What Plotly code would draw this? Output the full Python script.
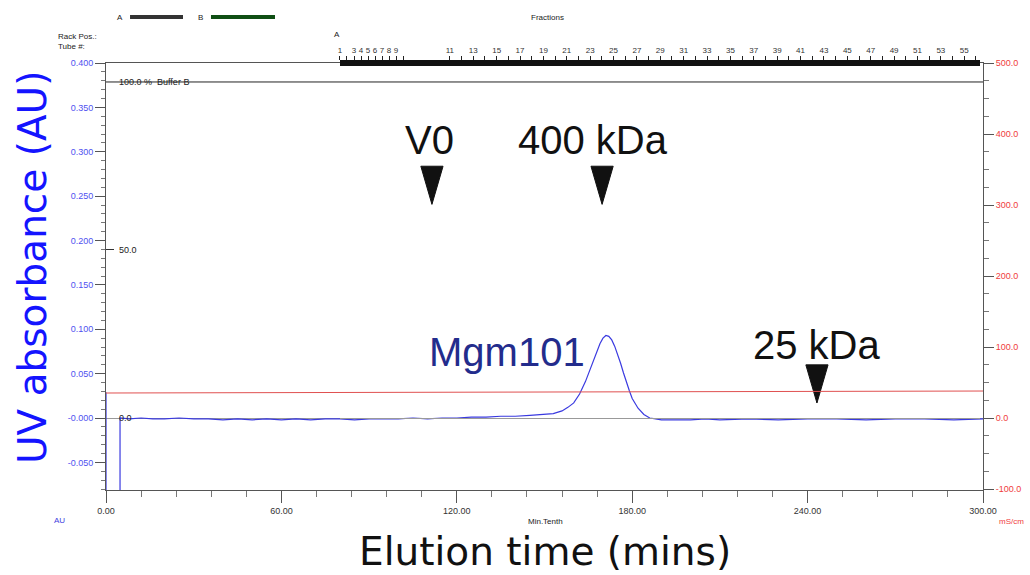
import plotly.graph_objects as go

# ---------------- data ----------------
uv_time = [0, 0, 4.8, 4.8, 8, 12, 16, 20, 25, 30, 35, 40, 45, 50, 55, 60, 65, 70, 75, 80,
           85, 90, 95, 100, 105, 110, 115, 120, 125, 130, 135, 140, 145, 150, 153, 156, 158,
           160, 162, 164, 166, 167, 168, 169, 170, 171, 172, 173, 174, 175, 176, 177, 178,
           179, 180, 182, 184, 186, 188, 190, 195, 200, 205, 210, 220, 230, 240, 250, 260,
           270, 280, 290, 300]
uv_au = [0.029, -0.12, -0.12, 0.000, -0.001, 0.000, -0.001, -0.001, 0.000, -0.001, -0.001,
         -0.002, -0.001, -0.002, -0.001, -0.002, -0.001, -0.002, -0.001, -0.001, -0.002,
         -0.001, -0.001, -0.001, 0.000, -0.001, 0.000, 0.000, 0.001, 0.001, 0.002, 0.002,
         0.003, 0.004, 0.005, 0.008, 0.012, 0.017, 0.027, 0.041, 0.058, 0.067, 0.076, 0.084,
         0.090, 0.093, 0.092, 0.088, 0.081, 0.072, 0.062, 0.051, 0.040, 0.031, 0.022, 0.011,
         0.004, 0.000, -0.001, -0.002, -0.002, -0.002, -0.001, -0.002, -0.001, -0.002,
         -0.001, -0.001, -0.002, -0.001, -0.001, -0.002, -0.001]

cond_time = [0, 10, 20, 25, 30, 35, 40, 50, 60, 80, 100, 130, 160, 200, 240, 270, 300]
cond_mscm = [35.2, 35.3, 35.5, 36.0, 35.6, 36.2, 36.0, 36.4, 36.6, 36.8, 37.0, 37.3, 37.5,
             37.7, 37.9, 38.0, 38.0]

conc_time = [0, 300]
conc_pct_b = [100, 100]

marker_labels = ["V0", "400 kDa", "25 kDa"]
marker_time = [111.5, 169.7, 243.2]
marker_tip_au = [0.2407, 0.2407, 0.0169]
label_time = [110.8, 166.6, 243.2]
label_au = [0.3132, 0.3132, 0.0823]

peak_label = "Mgm101"
peak_label_time = 137.2
peak_label_au = 0.0746

x_ticks = [0, 60, 120, 180, 240, 300]
x_tick_text = ["0.00", "60.00", "120.00", "180.00", "240.00", "300.00"]
y_ticks = [-0.05, 0.0, 0.05, 0.10, 0.15, 0.20, 0.25, 0.30, 0.35, 0.40]
y_tick_text = ["-0.050", "-0.000", "0.050", "0.100", "0.150", "0.200", "0.250", "0.300",
               "0.350", "0.400"]
y2_ticks = [-100, 0, 100, 200, 300, 400, 500]
y2_tick_text = ["-100.0", "0.0", "100.0", "200.0", "300.0", "400.0", "500.0"]
y3_ticks = [0, 50, 100]
y3_tick_text = ["0.0", "50.0", "100.0 %  Buffer B"]

frac_numbers = list(range(1, 57))
frac_start_min = [80.0, 82.4, 84.8, 87.2, 89.6, 92.0, 94.4, 96.8, 99.2, 101.6,
                  117.6, 121.6, 125.6, 129.6, 133.6, 137.6, 141.6, 145.6, 149.6, 153.6,
                  157.6, 161.6, 165.6, 169.6, 173.6, 177.6, 181.6, 185.6, 189.6, 193.6,
                  197.6, 201.6, 205.6, 209.6, 213.6, 217.6, 221.6, 225.6, 229.6, 233.6,
                  237.6, 241.6, 245.6, 249.6, 253.6, 257.6, 261.6, 265.6, 269.6, 273.6,
                  277.6, 281.6, 285.6, 289.6, 293.6, 297.6]
frac_shown = [1, 3, 4, 5, 6, 7, 8, 9] + list(range(11, 56, 2))

# ---------------- figure ----------------
FONT = "Liberation Sans, Arial, sans-serif"
TITLE_FONT = "DejaVu Sans, sans-serif"
TRI_HALF_W = 3.8     # minutes
TRI_H = 0.043        # AU

fig = go.Figure()

fig.add_trace(go.Scatter(x=conc_time, y=conc_pct_b, yaxis="y3", mode="lines",
                         line=dict(color="#222222", width=1), hoverinfo="skip"))
fig.add_trace(go.Scatter(x=cond_time, y=cond_mscm, yaxis="y2", mode="lines",
                         line=dict(color="#e05050", width=1), hoverinfo="skip"))
fig.add_trace(go.Scatter(x=uv_time, y=uv_au, mode="lines",
                         line=dict(color="#3a3ae0", width=1.2), hoverinfo="skip"))

# triangles marking calibration positions
tx, ty = [], []
for t, tip in zip(marker_time, marker_tip_au):
    tx += [t - TRI_HALF_W, t + TRI_HALF_W, t, t - TRI_HALF_W, None]
    ty += [tip + TRI_H, tip + TRI_H, tip, tip + TRI_H, None]
fig.add_trace(go.Scatter(x=tx, y=ty, mode="lines", fill="toself", fillcolor="#111111",
                         line=dict(color="#111111", width=1), hoverinfo="skip"))

# invisible trace to create the fractions axis
fig.add_trace(go.Scatter(x=frac_start_min, y=[None] * len(frac_start_min), xaxis="x2",
                         mode="markers", hoverinfo="skip"))

frac_text = [str(n) if n in frac_shown else "" for n in frac_numbers]

fig.update_layout(
    width=1030, height=575,
    margin=dict(l=106, r=47, t=63, b=85),
    paper_bgcolor="white", plot_bgcolor="rgba(0,0,0,0)",
    showlegend=False,
    xaxis=dict(range=[0, 300], tickvals=x_ticks, ticktext=x_tick_text, automargin=False,
               ticks="outside", ticklen=12, tickcolor="#555", showline=True,
               linecolor="#555", linewidth=1, mirror=True, showgrid=False, zeroline=False,
               tickfont=dict(family=FONT, size=9, color="#333"),
               minor=dict(dtick=12, ticks="outside", ticklen=6, tickcolor="#777")),
    xaxis2=dict(anchor="free", position=1, side="top", domain=[0.2668, 0.9966],
                range=[80.0, 299.0], tickvals=frac_start_min, ticktext=frac_text,
                automargin=False,
                tickangle=0, ticks="outside", ticklen=4, tickcolor="#222", showline=True,
                linecolor="#111", linewidth=6, showgrid=False, zeroline=False,
                tickfont=dict(family=FONT, size=8, color="#333")),
    yaxis=dict(range=[-0.0811, 0.4], tickvals=y_ticks, ticktext=y_tick_text,
               automargin=False,
               ticks="outside", ticklen=10, tickcolor="#555", showline=True,
               linecolor="#555", showgrid=False, zeroline=True, zerolinecolor="#999",
               zerolinewidth=1, tickfont=dict(family=FONT, size=9, color="#5050f0"),
               minor=dict(dtick=0.01, ticks="outside", ticklen=4, tickcolor="#777")),
    yaxis2=dict(range=[-101.4, 500], overlaying="y", side="right", anchor="x",
                automargin=False,
                tickvals=y2_ticks, ticktext=y2_tick_text, ticks="outside", ticklen=10,
                tickcolor="#555", showline=True, linecolor="#555", showgrid=False,
                zeroline=False, tickfont=dict(family=FONT, size=9, color="#f03c3c"),
                minor=dict(dtick=25, ticks="outside", ticklen=5, tickcolor="#777")),
    yaxis3=dict(range=[-21.43, 105.65], overlaying="y", side="left", anchor="x",
                automargin=False, tickvals=[50], showticklabels=False,
                ticks="inside", ticklen=8, tickcolor="#333", showline=False,
                showgrid=False, zeroline=False),
)

ann = []
for lab, t, v in zip(marker_labels, label_time, label_au):
    ann.append(dict(x=t, y=v, xref="x", yref="y", text=lab, showarrow=False,
                    font=dict(family=FONT, size=40, color="#111")))
ann.append(dict(x=peak_label_time, y=peak_label_au, xref="x", yref="y", text=peak_label,
                showarrow=False, font=dict(family=FONT, size=40, color="#232c8c")))
# % buffer B scale labels (drawn inside the plot)
for v, txt in zip(y3_ticks, y3_tick_text):
    ann.append(dict(x=0, y=v, xref="paper", yref="y3", text=txt, showarrow=False,
                    xanchor="left", yanchor="middle", xshift=11,
                    font=dict(family=FONT, size=9, color="#222")))
# axis titles
ann.append(dict(x=0.5006, y=-0.145, xref="paper", yref="paper", text="Elution time (mins)",
                showarrow=False, font=dict(family=TITLE_FONT, size=39, color="#111"),
                xanchor="center", yanchor="middle"))
ann.append(dict(x=-0.0832, y=0.52, xref="paper", yref="paper", text="UV absorbance (AU)",
                showarrow=False, textangle=-90,
                font=dict(family=TITLE_FONT, size=39, color="#1414ff"),
                xanchor="center", yanchor="middle"))
# small instrument labels
small = [
    ("AU", -0.0525, -0.0703, "#4040e0", "center"),
    ("Min.Tenth", 0.5006, -0.0726, "#222", "center"),
    ("mS/cm", 1.033, -0.0726, "#f03c3c", "center"),
    ("A", 0.016, 1.1077, "#222", "center"),
    ("B", 0.1072, 1.1077, "#222", "center"),
    ("Fractions", 0.503, 1.1077, "#222", "center"),
    ("Rack Pos.:", -0.057, 1.063, "#222", "left"),
    ("Tube #:", -0.057, 1.0375, "#222", "left"),
    ("A", 0.2634, 1.0656, "#222", "center"),
]
for txt, x, y, c, xa in small:
    ann.append(dict(x=x, y=y, xref="paper", yref="paper", text=txt, showarrow=False,
                    xanchor=xa, yanchor="middle", font=dict(family=FONT, size=8, color=c)))
fig.update_layout(annotations=ann)

fig.add_shape(type="line", xref="paper", yref="paper", x0=0.0274, x1=0.0878,
              y0=1.1077, y1=1.1077, line=dict(color="#333", width=4))
fig.add_shape(type="line", xref="paper", yref="paper", x0=0.1197, x1=0.1927,
              y0=1.1077, y1=1.1077, line=dict(color="#0f4f14", width=4))

fig.write_html("out.html", config={"displayModeBar": False},
               post_script="document.body.style.margin='0';document.body.style.overflow='hidden';")
